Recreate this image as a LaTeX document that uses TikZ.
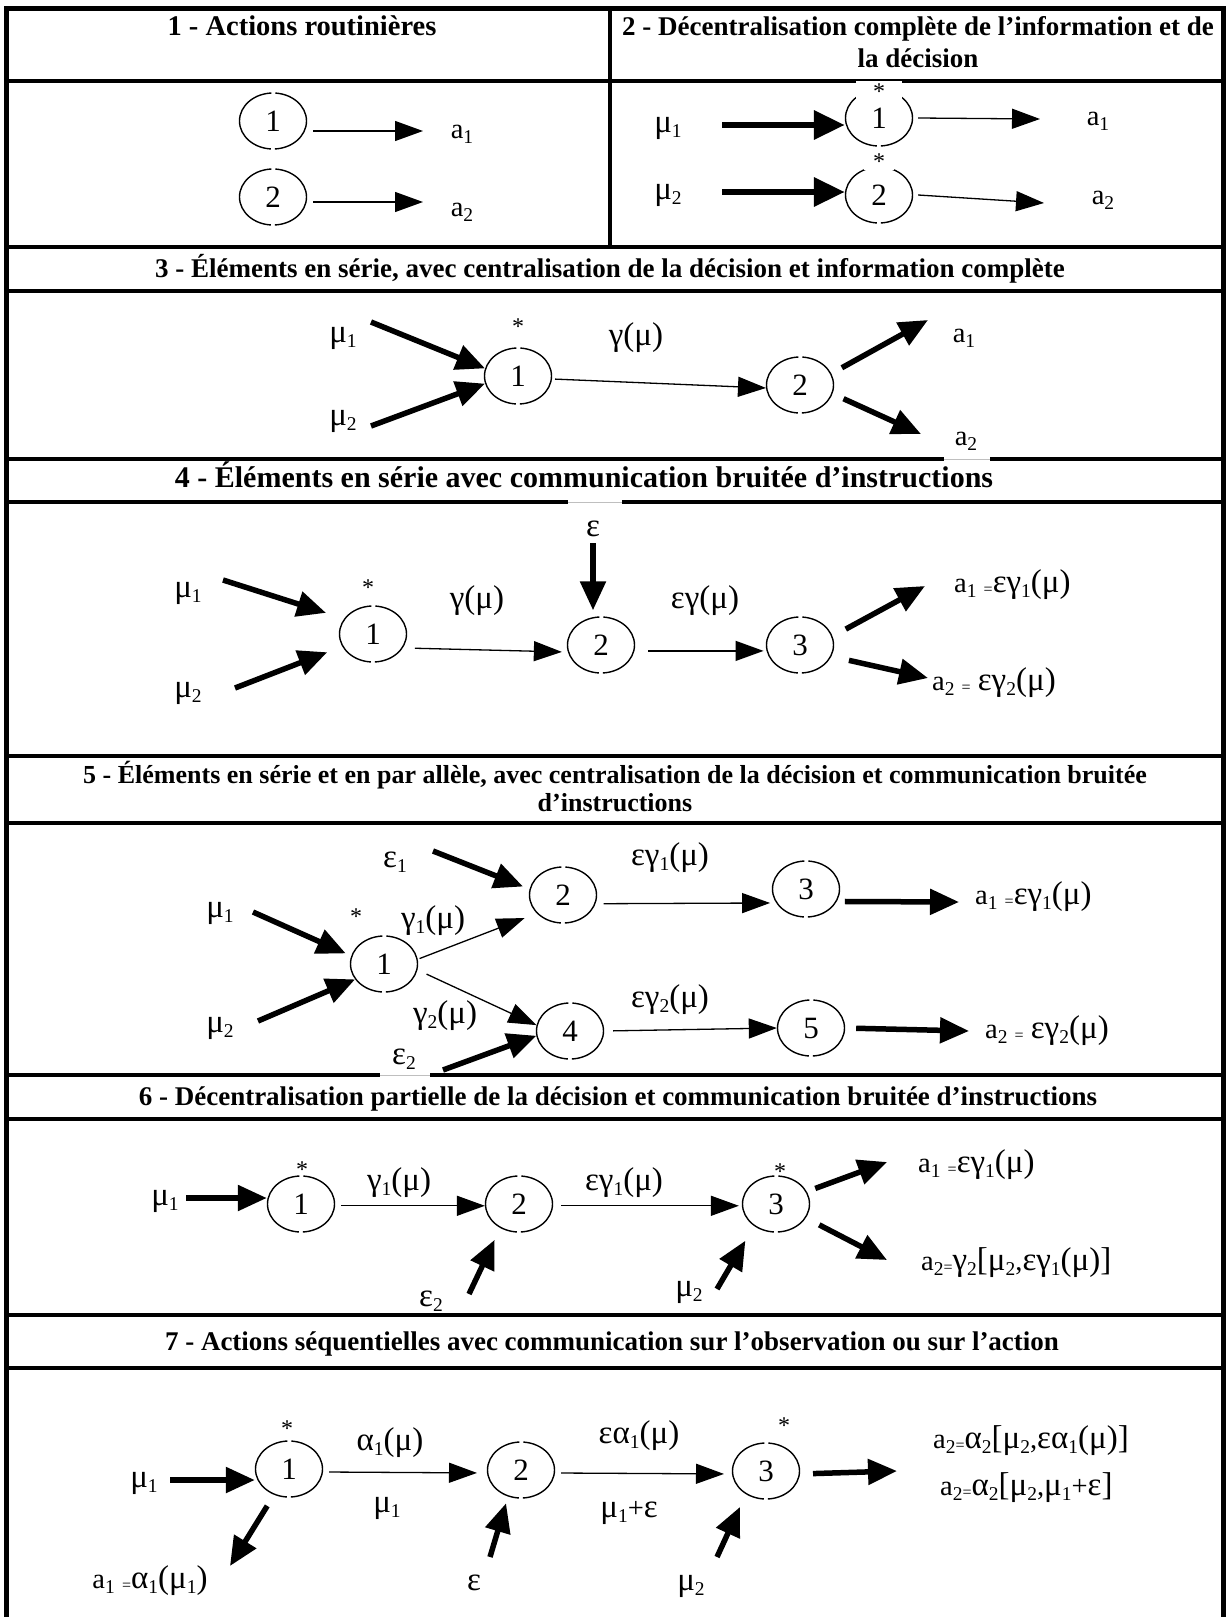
\documentclass[tikz,border=0pt]{standalone}
\usepackage{fontspec}
\setmainfont{Liberation Serif}
\usetikzlibrary{arrows.meta,shapes.geometric}

% lowered small index, small equals sign, larger Greek
\newcommand\lo[1]{\raisebox{-0.18em}{\fontsize{19.5}{19.5}\selectfont #1}}
\newcommand\eqs{\raisebox{-0.1em}{\fontsize{16}{16}\selectfont =}}
\newcommand\G[1]{{\fontsize{33}{33}\selectfont #1}}

\begin{document}
\begin{tikzpicture}[x=1pt,y=-1pt,
  every node/.style={font=\fontsize{28.5}{32}\selectfont, inner sep=0pt},
  circ/.style={draw, ellipse, minimum width=67pt, minimum height=56pt,
    line width=1.4pt, dash pattern=on 46pt off 4pt on 93pt off 4pt on 47pt,
    font=\fontsize{31}{32}\selectfont},
  lbl/.style={anchor=base},
  lblw/.style={anchor=base west},
  hdr/.style={anchor=base, font=\bfseries\fontsize{27}{32}\selectfont},
  star/.style={font=\fontsize{24}{24}\selectfont},
  thinar/.style={line width=1.3pt, -{Triangle[length=28pt,width=20pt]}},
  thickar/.style={line width=5.5pt, -{Triangle[length=29pt,width=25pt]}},
  heavyar/.style={line width=6.5pt, -{Triangle[length=31pt,width=28pt]}},
  rule/.style={line width=3.5pt},
  frame/.style={line width=5pt},
  faint/.style={line width=1pt, gray!50}
]
\path[use as bounding box] (0,0) rectangle (1228,1617);

% ---------- table grid ----------
\draw[frame] (4,8.5) -- (1225.5,8.5);
\draw[frame] (6.5,6) -- (6.5,1617);
\draw[frame] (1223,6) -- (1223,1617);
\draw[rule] (610,8.5) -- (610,247);
\foreach \y in {81,247,291,756,823,1119,1315,1368}
  \draw[rule] (6.5,\y) -- (1223,\y);
\draw[rule] (6.5,459) -- (944,459) (990,459) -- (1223,459);
\draw[faint] (944,459) -- (990,459);
\draw[rule] (6.5,502) -- (568,502) (622,502) -- (1223,502);
\draw[faint] (568,502) -- (622,502);
\draw[rule] (6.5,1075) -- (380,1075) (430,1075) -- (1223,1075);
\draw[faint] (380,1075) -- (430,1075);

% ---------- headers ----------
\node[hdr, font=\bfseries\fontsize{28.5}{32}\selectfont] (h1) at (302,35) {1 - Actions routinières};
\node[hdr] (h2a) at (918,35) {2 - Décentralisation complète de l’information et de};
\node[hdr] (h2b) at (918,67) {la décision};
\node[hdr] (h3) at (610,277) {3 - Éléments en série, avec centralisation de la décision et information complète};
\node[hdr, font=\bfseries\fontsize{30}{32}\selectfont] (h4) at (584,487) {4 - Éléments en série avec communication bruitée d’instructions};
\node[hdr, font=\bfseries\fontsize{26}{32}\selectfont] (h5a) at (615,783) {5 - Éléments en série et en par allèle, avec centralisation de la décision et communication bruitée};
\node[hdr, font=\bfseries\fontsize{26}{32}\selectfont] (h5b) at (615,811) {d’instructions};
\node[hdr] (h6) at (618,1105) {6 - Décentralisation partielle de la décision et communication bruitée d’instructions};
\node[hdr] (h7) at (612,1350) {7 - Actions séquentielles avec communication sur l’observation ou sur l’action};

% ---------- 1: routine actions ----------
\node[circ] (s1n1) at (273,121) {1};
\node[circ] (s1n2) at (273,197) {2};
\node[lbl] (s1a1) at (462,138) {a\lo{1}};
\node[lbl] (s1a2) at (462,216) {a\lo{2}};
\coordinate (s1t1) at (423,131);
\coordinate (s1t2) at (423,202);
\draw[thinar] ([xshift=6pt]s1n1.east |- s1t1) -- (s1t1);
\draw[thinar] ([xshift=6pt]s1n2.east |- s1t2) -- (s1t2);

% ---------- 2: full decentralisation ----------
\node[circ] (s2n1) at (879,118) {1};
\node[circ] (s2n2) at (879,195) {2};
\node[star, fill=white, minimum width=46pt, minimum height=22pt] (s2st1) at (879,92) {*};
\node[star, fill=white, minimum width=30pt, minimum height=14pt] (s2st2) at (879,162) {*};
\node[lbl] (s2m1) at (668,132) {\G{μ}\lo{1}};
\node[lbl] (s2m2) at (668,199) {\G{μ}\lo{2}};
\node[lbl] (s2a1) at (1098,125) {a\lo{1}};
\node[lbl] (s2a2) at (1103,204) {a\lo{2}};
\coordinate (s2s1) at (722,125);
\coordinate (s2s2) at (722,192);
\coordinate (s2e1) at (1040,119);
\coordinate (s2e2) at (1044,203);
\draw[heavyar] (s2s1) -- (s2n1.west |- s2s1);
\draw[heavyar] (s2s2) -- (s2n2.west |- s2s2);
\draw[thinar] ([xshift=5pt]s2n1.east) -- (s2e1);
\draw[thinar] ([xshift=5pt]s2n2.east) -- (s2e2);

% ---------- 3: series, centralised decision ----------
\node[circ] (s3n1) at (518,376) {1};
\node[circ] (s3n2) at (800,385) {2};
\node[star] (s3st) at (518,327) {*};
\node[lbl] (s3m1) at (343,342) {\G{μ}\lo{1}};
\node[lbl] (s3m2) at (343,425) {\G{μ}\lo{2}};
\node[lbl] (s3g) at (636,345) {\G{γ(μ)}};
\node[lbl] (s3a1) at (964,342) {a\lo{1}};
\node[lbl] (s3a2) at (966,445) {a\lo{2}};
\coordinate (s3s1) at (371,322);
\coordinate (s3s2) at (371,426);
\coordinate (s3e1) at (928,320);
\coordinate (s3e2) at (921,434);
\draw[thickar] (s3s1) -- (s3n1.167);
\draw[thickar] (s3s2) -- (s3n1.193);
\draw[thinar, shorten <=3pt] (s3n1.-5) -- (s3n2.185);
\draw[thickar, shorten <=12pt] (s3n2.20) -- (s3e1);
\draw[thickar, shorten <=12pt] (s3n2.-15) -- (s3e2);

% ---------- 4: noisy instructions ----------
\node[circ] (s4n1) at (373,634) {1};
\node[circ] (s4n2) at (601,645) {2};
\node[circ] (s4n3) at (800,645) {3};
\node[star] (s4st) at (368,588) {*};
\node[lbl] (s4e) at (593,536) {\G{ε}};
\node[lbl] (s4m1) at (188,597) {\G{μ}\lo{1}};
\node[lbl] (s4m2) at (188,697) {\G{μ}\lo{2}};
\node[lbl] (s4g) at (477,608) {\G{γ(μ)}};
\node[lbl] (s4eg) at (705,608) {\G{εγ(μ)}};
\node[lblw] (s4a1) at (954,592) {a\lo{1} \eqs\G{εγ}\lo{1}\G{(μ)}};
\node[lblw] (s4a2) at (932,690) {a\lo{2} \eqs{} \G{εγ}\lo{2}\G{(μ)}};
\coordinate (s4se) at (593,543);
\coordinate (s4s1) at (223,580);
\coordinate (s4s2) at (235,688);
\coordinate (s4t1) at (925,586);
\coordinate (s4t2) at (928,678);
\draw[thickar, shorten >=6pt] (s4se) -- (s4n2.north -| s4se);
\draw[thickar, shorten >=19pt] (s4s1) -- (s4n1.152);
\draw[thickar, shorten >=16pt] (s4s2) -- (s4n1.202);
\draw[thinar, shorten <=12pt, shorten >=6pt] (s4n1.-25) -- (s4n2.192);
\draw[thinar, shorten <=14pt, shorten >=3pt] (s4n2.-10) -- (s4n3.190);
\draw[thickar, shorten <=15pt] (s4n3.15) -- (s4t1);
\draw[thickar, shorten <=18pt] (s4n3.-20) -- (s4t2);

% ---------- 5: series and parallel ----------
\node[circ] (s5n1) at (384,964) {1};
\node[circ] (s5n2) at (563,895) {2};
\node[circ] (s5n3) at (806,889) {3};
\node[circ] (s5n4) at (570,1031) {4};
\node[circ] (s5n5) at (811,1028) {5};
\node[star] (s5st) at (356,917) {*};
\node[lbl] (s5e1) at (395,867) {\G{ε}\lo{1}};
\node[lbl] (s5m1) at (220,917) {\G{μ}\lo{1}};
\node[lbl] (s5m2) at (220,1032) {\G{μ}\lo{2}};
\node[lbl] (s5e2) at (404,1064) {\G{ε}\lo{2}};
\node[lbl] (s5g1) at (433,928) {\G{γ}\lo{1}\G{(μ)}};
\node[lbl] (s5g2) at (445,1023) {\G{γ}\lo{2}\G{(μ)}};
\node[lbl] (s5eg1) at (670,865) {\G{εγ}\lo{1}\G{(μ)}};
\node[lbl] (s5eg2) at (670,1007) {\G{εγ}\lo{2}\G{(μ)}};
\node[lblw] (s5a1) at (975,904) {a\lo{1} \eqs\G{εγ}\lo{1}\G{(μ)}};
\node[lblw] (s5a2) at (985,1038) {a\lo{2} \eqs{} \G{εγ}\lo{2}\G{(μ)}};
\coordinate (s5se1) at (433,851);
\coordinate (s5sm1) at (253,912);
\coordinate (s5sm2) at (258,1021);
\coordinate (s5se2) at (443,1070);
\coordinate (s5t1) at (959,902);
\coordinate (s5t2) at (969,1031);
\draw[thickar, shorten >=7pt] (s5se1) -- (s5n2.170);
\draw[thickar, shorten >=6pt] (s5sm1) -- (s5n1.166);
\draw[thickar] (s5sm2) -- (s5n1.208);
\draw[thickar] (s5se2) -- (s5n4.188);
\draw[thinar, shorten <=2pt, shorten >=13pt] (s5n1.8) -- (s5n2.215);
\draw[thinar, shorten <=10pt] (s5n1.-10) -- (s5n4.170);
\draw[thinar, shorten <=8pt, shorten >=6pt] (s5n2.-15) -- (s5n3.205);
\draw[thinar, shorten <=9pt] (s5n4.east) -- (s5n5.west);
\draw[thickar, shorten <=8pt] (s5n3.-22) -- (s5t1);
\draw[thickar, shorten <=11pt] (s5n5.east) -- (s5t2);

% ---------- 6: partial decentralisation ----------
\node[circ] (s6n1) at (301,1204) {1};
\node[circ] (s6n2) at (519,1204) {2};
\node[circ] (s6n3) at (776,1204) {3};
\node[star] (s6st1) at (302,1170) {*};
\node[star] (s6st3) at (780,1172) {*};
\node[lbl] (s6m1) at (165,1205) {\G{μ}\lo{1}};
\node[lbl] (s6g1) at (399,1190) {\G{γ}\lo{1}\G{(μ)}};
\node[lbl] (s6e2) at (431,1306) {\G{ε}\lo{2}};
\node[lbl] (s6eg1) at (624,1190) {\G{εγ}\lo{1}\G{(μ)}};
\node[lbl] (s6m2) at (689,1296) {\G{μ}\lo{2}};
\node[lblw] (s6a1) at (918,1172) {a\lo{1} \eqs\G{εγ}\lo{1}\G{(μ)}};
\node[lblw] (s6a2) at (921,1270) {a\lo{2}\eqs\G{γ}\lo{2}\G{[μ}\lo{2},\G{εγ}\lo{1}\G{(μ)]}};
\coordinate (s6sm1) at (186,1198);
\coordinate (s6se2) at (469,1294);
\coordinate (s6sm2) at (717,1289);
\coordinate (s6t1) at (887,1162);
\coordinate (s6t2) at (887,1260);
\draw[thickar] (s6sm1) -- (s6n1.west |- s6sm1);
\draw[thinar, shorten <=6pt] (s6n1.-3) -- (s6n2.183);
\draw[thickar, shorten >=13pt] (s6se2) -- (s6n2.232);
\draw[thinar, shorten <=8pt, shorten >=3pt] (s6n2.-3) -- (s6n3.183);
\draw[thickar, shorten >=17pt] (s6sm2) -- (s6n3.225);
\draw[thickar, shorten <=9pt] (s6n3.22) -- (s6t1);
\draw[thickar, shorten <=15pt] (s6n3.-25) -- (s6t2);

% ---------- 7: sequential actions ----------
\node[circ] (s7n1) at (289,1469) {1};
\node[circ] (s7n2) at (521,1470) {2};
\node[circ] (s7n3) at (766,1471) {3};
\node[star] (s7st1) at (287,1429) {*};
\node[star] (s7st3) at (784,1426) {*};
\node[lbl] (s7m1) at (144,1487) {\G{μ}\lo{1}};
\node[lbl] (s7al) at (390,1450) {\G{α}\lo{1}\G{(μ)}};
\node[lbl] (s7mu) at (387,1512) {\G{μ}\lo{1}};
\node[lbl] (s7ea) at (639,1443) {\G{εα}\lo{1}\G{(μ)}};
\node[lbl] (s7me) at (629,1517) {\G{μ}\lo{1}+\G{ε}};
\node[lbl] (s7e) at (474,1590) {\G{ε}};
\node[lbl] (s7m2) at (691,1590) {\G{μ}\lo{2}};
\node[lbl] (s7a1) at (150,1588) {a\lo{1} \eqs\G{α}\lo{1}\G{(μ}\lo{1}\G{)}};
\node[lblw] (s7a2a) at (933,1448) {a\lo{2}\eqs\G{α}\lo{2}\G{[μ}\lo{2},\G{εα}\lo{1}\G{(μ)]}};
\node[lblw] (s7a2b) at (940,1495) {a\lo{2}\eqs\G{α}\lo{2}\G{[μ}\lo{2},\G{μ}\lo{1}+\G{ε]}};
\coordinate (s7sm1) at (170,1480);
\coordinate (s7se) at (490,1557);
\coordinate (s7sm2) at (717,1557);
\coordinate (s7t1) at (230,1566);
\coordinate (s7t3) at (897,1471);
\draw[thickar] (s7sm1) -- (s7n1.west |- s7sm1);
\draw[thinar, shorten <=6pt, shorten >=10pt] (s7n1.-5) -- (s7n2.185);
\draw[thickar, shorten <=13pt] (s7n1.240) -- (s7t1);
\draw[thinar, shorten <=6pt, shorten >=8pt] (s7n2.-5) -- (s7n3.185);
\draw[thickar, shorten >=7pt] (s7se) -- (s7n2.244);
\draw[thickar, shorten >=14pt] (s7sm2) -- (s7n3.229.5);
\draw[thickar, shorten <=13pt] (s7n3.-5) -- (s7t3);

\end{tikzpicture}
\end{document}
